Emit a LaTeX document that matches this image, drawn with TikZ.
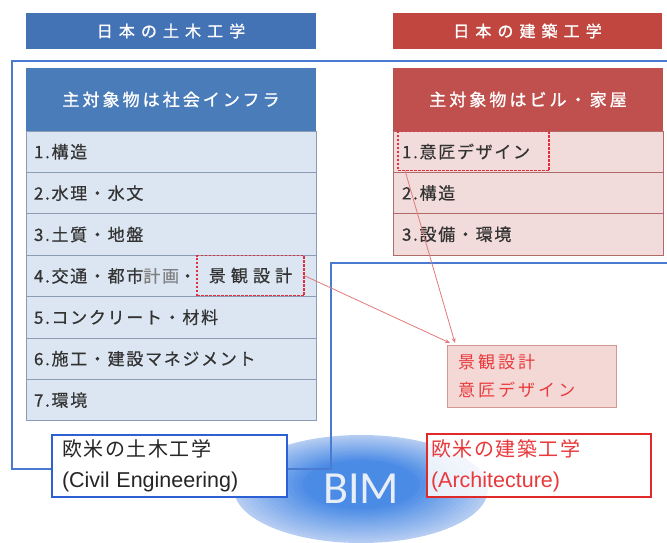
\documentclass[tikz,border=0pt]{standalone}
\usepackage{fontspec}
\usetikzlibrary{arrows.meta,shapes.geometric}
\newfontfamily\rowfont[LetterSpace=10,FakeBold=0.6]{Noto Sans CJK JP}
\newfontfamily\headfont[LetterSpace=18,FakeBold=1.2]{Noto Sans CJK JP}
\newfontfamily\topfont[LetterSpace=38,FakeBold=1]{Noto Sans CJK JP}
\newfontfamily\keifont[LetterSpace=30,FakeBold=0.6]{Noto Sans CJK JP}
\newfontfamily\pkfont[LetterSpace=18]{Noto Sans CJK JP}
\newfontfamily\boxfont[LetterSpace=8]{Noto Sans CJK JP}
\newfontfamily\latf{Liberation Sans}
\newfontfamily\bimf{Carlito}
\definecolor{hdrblue}{HTML}{4A7CBA}
\definecolor{topblue}{HTML}{4473B5}
\definecolor{hdrred}{HTML}{C0504D}
\definecolor{topred}{HTML}{C0463F}
\definecolor{rowblue}{HTML}{DCE6F2}
\definecolor{rowblueline}{HTML}{8C9CB4}
\definecolor{rowpink}{HTML}{F2DCDB}
\definecolor{rowpinkline}{HTML}{B06A68}
\definecolor{outblue}{HTML}{4A7BD0}
\definecolor{civblue}{HTML}{2D60D4}
\definecolor{archred}{HTML}{E02A2A}
\definecolor{pkfill}{HTML}{F4D8D6}
\definecolor{pkline}{HTML}{D29894}
\definecolor{pktext}{HTML}{E8393C}
\definecolor{dashred}{HTML}{E0303E}
\definecolor{arrred}{HTML}{E07A7A}
\definecolor{txt}{HTML}{333333}
\definecolor{bimA}{HTML}{4A8BE6}
\definecolor{bimC}{HTML}{B4CCF2}
\definecolor{bimtext}{HTML}{E8EEF8}
\tikzset{
  topbox/.style={anchor=north west, minimum height=36pt, text=white, font=\topfont\fontsize{16}{18}\selectfont},
  thead/.style={anchor=north west, minimum height=63pt, text=white, font=\headfont\fontsize{17}{20}\selectfont},
  crow/.style={anchor=north west, draw=rowblueline, fill=rowblue, line width=0.8pt, minimum width=290pt, minimum height=41.4pt, text width=274pt, inner xsep=8pt, align=left, text=txt, font=\rowfont\fontsize{17}{20}\selectfont},
  prow/.style={anchor=north west, draw=rowpinkline, fill=rowpink, line width=0.8pt, minimum width=270pt, minimum height=41.3pt, text width=252pt, inner xsep=9pt, align=left, text=txt, font=\rowfont\fontsize{17}{20}\selectfont},
  dashbox/.style={anchor=north west, draw=dashred, line width=1.5pt, dash pattern=on 2.5pt off 1.5pt},
  arr/.style={draw=arrred, line width=0.8pt, -{Stealth[length=5pt,width=4pt]}},
  outl/.style={draw=outblue, line width=2pt},
  pkbox/.style={anchor=north west, draw=pkline, fill=pkfill, line width=0.8pt, minimum width=169pt, minimum height=62pt, text width=147pt, inner xsep=11pt, align=left, text=pktext, font=\pkfont\fontsize{17}{28}\selectfont},
  civbox/.style={anchor=north west, draw=civblue, line width=2pt, fill=white, minimum width=235pt, minimum height=62pt, text width=215pt, inner xsep=10pt, align=left, text=black!85, font=\boxfont\fontsize{20}{31}\selectfont},
  archbox/.style={anchor=north west, draw=archred, line width=2.5pt, fill=white, fill opacity=0.85, text opacity=1, minimum width=224pt, minimum height=63pt, text width=216pt, inner xsep=4pt, align=left, text=pktext, font=\boxfont\fontsize{20}{31}\selectfont}
}
\begin{document}
\begin{tikzpicture}[x=1pt,y=-1pt, every node/.style={inner sep=0pt,outer sep=0pt}]
\useasboundingbox (0,0) rectangle (667,543);

% BIM ellipse (stepped radial gradient)
\foreach \k in {0,...,24} {
  \pgfmathsetmacro\rx{127*(1-\k/26)}
  \pgfmathsetmacro\ry{54*(1-\k/26)}
  \pgfmathsetmacro\pc{min(100,\k*7)}
  \pgfmathsetmacro\cy{489-0.3*\k}
  \fill[bimA!\pc!bimC] (361,\cy) ellipse [x radius=\rx pt, y radius=\ry pt];
}
\node[ellipse, minimum width=254pt, minimum height=108pt] (bimell) at (361,489) {};
\node[text=bimtext, font=\bimf\fontsize{46}{46}\selectfont] (bim) at (bimell.center) {BIM};

% big outline
\draw[outl] (12,61) -- (690,61) -- (690,263) -- (331,263) -- (331,469) -- (12,469) -- cycle;

% top headers
\node[topbox, fill=topblue, minimum width=290pt] (jpcivil) at (26,13) {日本の土木工学};
\node[topbox, fill=topred, minimum width=269pt] (jparch) at (393,13) {日本の建築工学};

% left table
\node[thead, fill=hdrblue, minimum width=290pt] (lhead) at (26,68) {主対象物は社会インフラ};
\node[crow] (c1) at (26,131) {1.構造};
\node[crow] (c2) at (26,172.4) {2.水理・水文};
\node[crow] (c3) at (26,213.8) {3.土質・地盤};
\node[crow] (c4) at (26,255.2) {4.交通・都市{\color{gray}計画}・};
\node[crow] (c5) at (26,296.6) {5.コンクリート・材料};
\node[crow] (c6) at (26,338) {6.施工・建設マネジメント};
\node[crow] (c7) at (26,379.4) {7.環境};
\node[dashbox, minimum width=107pt, minimum height=40pt, text=txt, font=\keifont\fontsize{17}{20}\selectfont] (kei) at (197,255.5) {景観設計};

% right table
\node[thead, fill=hdrred, minimum width=270pt] (rhead) at (393,68) {主対象物はビル・家屋};
\node[prow] (p1) at (393,131) {1.意匠デザイン};
\node[prow] (p2) at (393,172.3) {2.構造};
\node[prow] (p3) at (393,213.6) {3.設備・環境};
\node[dashbox, minimum width=151pt, minimum height=39pt] (dz) at (398,131.5) {};

% pink box and arrows
\node[pkbox] (pk) at (447,345) {景観設計\\意匠デザイン};
\draw[arr] (kei.east) -- ([xshift=3pt,yshift=2pt]pk.north west);
\draw[arr] ([xshift=7pt]dz.south west) -- ([xshift=8pt,yshift=2pt]pk.north west);

% western boxes
\node[civbox] (civ) at (52,435) {欧米の土木工学\\{\latf\fontsize{21.5}{31}\selectfont (Civil Engineering)}};
\node[archbox] (arch) at (427,434) {欧米の建築工学\\{\latf\fontsize{21.5}{31}\selectfont (Architecture)}};
\end{tikzpicture}
\end{document}
